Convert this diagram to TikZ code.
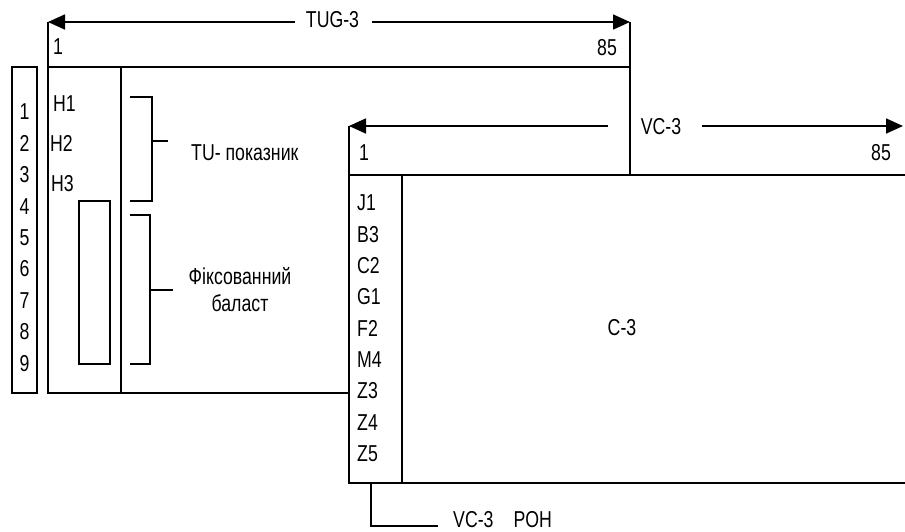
\documentclass[tikz,border=0pt]{standalone}
\usepackage{fontspec}
\setmainfont{Liberation Sans}[FakeStretch=0.77]
\usetikzlibrary{arrows.meta}
\begin{document}
\begin{tikzpicture}[x=1pt,y=-1pt,
  ln/.style={line width=1.7pt, line join=miter},
  arr/.style={ln, -{Triangle[length=17pt,width=15pt]}},
  lbl/.style={font=\fontsize{23}{27}\selectfont, inner sep=0pt}]
\useasboundingbox (0,0) rectangle (905,531);
% ---------------- TUG-3 frame ----------------
\coordinate (tugTL) at (48,22);
\coordinate (tugTR) at (630,22);
\coordinate (tugHL) at (48,67);
\coordinate (tugHR) at (630,67);
\coordinate (tugBL) at (48,393);
\coordinate (tugBR) at (349,393);
\coordinate (tugRB) at (630,175);
\coordinate (tugA1) at (295,22);
\coordinate (tugA2) at (372,22);
\node[lbl] (tugt) at (332.5,20) {TUG-3};
\draw[arr] (tugA1) -- (tugTL);
\draw[arr] (tugA2) -- (tugTR);
\draw[ln] (tugTL) -- (tugBL) -- (tugBR);
\draw[ln] (tugHL) -- (tugHR);
\draw[ln] (tugTR) -- (tugRB);
\node[lbl] (tug1) at (58,47) {1};
\node[lbl] (tug85) at (607,48) {85};
% POH column of TUG-3
\coordinate (colT) at (121,67);
\coordinate (colB) at (121,393);
\draw[ln] (colT) -- (colB);
\node[lbl,anchor=west] (h1) at (53,104) {H1};
\node[lbl,anchor=west] (h2) at (50,143) {H2};
\node[lbl,anchor=west] (h3) at (51,184) {H3};
\node[ln,draw,minimum width=31pt,minimum height=163pt,inner sep=0pt] (ballast) at (94.5,282.5) {};
% row number box
\node[ln,draw,minimum width=25pt,minimum height=326pt,inner sep=0pt] (rows) at (24.5,230) {};
\foreach \i in {1,...,9}{
  \node[lbl] (r\i) at (24.5,{112+31.4*(\i-1)}) {\i};
}
% brackets
\coordinate (b1a) at (130,97);
\coordinate (b1b) at (152,97);
\coordinate (b1c) at (152,201);
\coordinate (b1d) at (130,201);
\coordinate (b1m) at (152,141);
\coordinate (b1t) at (168,141);
\draw[ln] (b1a) -- (b1b) -- (b1c) -- (b1d);
\draw[ln] (b1m) -- (b1t);
\coordinate (b2a) at (130,215);
\coordinate (b2b) at (150,215);
\coordinate (b2c) at (150,364);
\coordinate (b2d) at (130,364);
\coordinate (b2m) at (150,290);
\coordinate (b2t) at (173,290);
\draw[ln] (b2a) -- (b2b) -- (b2c) -- (b2d);
\draw[ln] (b2m) -- (b2t);
\node[lbl,anchor=west] (tu) at (191,153) {TU- показник};
\node[lbl] (fix1) at (240,276) {Фіксованний};
\node[lbl] (fix2) at (240,303) {баласт};
% ---------------- VC-3 frame ----------------
\coordinate (vcTL) at (349,126);
\coordinate (vcTR) at (903,126);
\coordinate (vcHL) at (349,175);
\coordinate (vcHR) at (905,175);
\coordinate (vcBL) at (349,483);
\coordinate (vcBR) at (905,483);
\coordinate (vcA1) at (608,126);
\coordinate (vcA2) at (702,126);
\node[lbl] (vct) at (661,127) {VC-3};
\draw[arr] (vcA1) -- (vcTL);
\draw[arr] (vcA2) -- (vcTR);
\draw[ln] (vcTL) -- (vcBL) -- (vcBR);
\draw[ln] (vcHL) -- (vcHR);
\node[lbl] (vc1) at (364,153) {1};
\node[lbl] (vc85) at (881,153) {85};
\coordinate (pcT) at (402,175);
\coordinate (pcB) at (402,483);
\draw[ln] (pcT) -- (pcB);
\foreach \t [count=\i] in {J1,B3,C2,G1,F2,M4,Z3,Z4,Z5}{
  \node[lbl,anchor=west] (p\i) at (357,{203+31.3*(\i-1)}) {\t};
}
\node[lbl] (c3) at (622,328) {C-3};
% POH pointer
\coordinate (pp1) at (371,483);
\coordinate (pp2) at (371,526);
\coordinate (pp3) at (438,526);
\draw[ln] (pp1) -- (pp2) -- (pp3);
\node[lbl,anchor=west] (poh) at (453,520) {VC-3\hspace{20pt}POH};
\end{tikzpicture}
\end{document}
